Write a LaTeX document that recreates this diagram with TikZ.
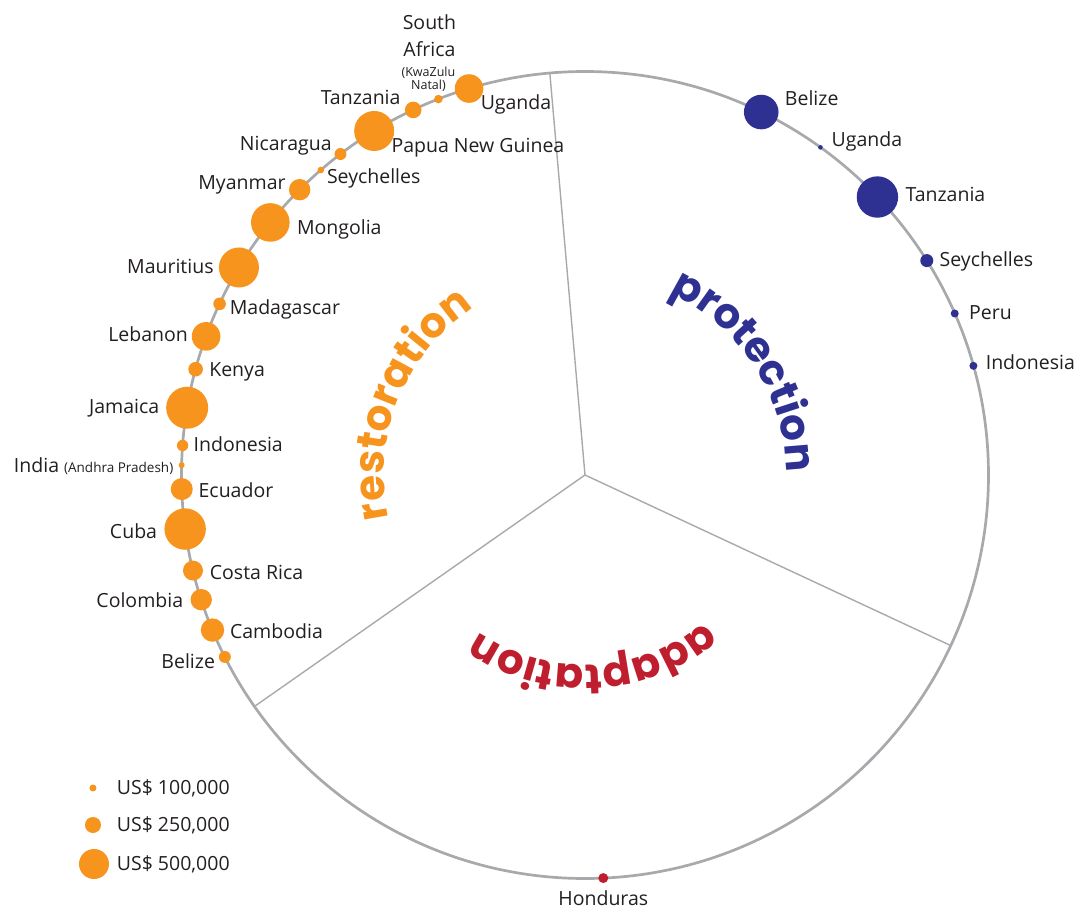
\documentclass[tikz,border=0pt]{standalone}
\usepackage{fontspec}
\setmainfont{Open Sans}
\newfontfamily\arcfont{Poppins}
\usetikzlibrary{positioning,decorations.text}
\definecolor{restorange}{RGB}{247,148,30}
\definecolor{protblue}{RGB}{46,49,146}
\definecolor{adaptred}{RGB}{190,30,45}
\definecolor{ringgray}{RGB}{167,169,172}
\definecolor{labdark}{RGB}{35,31,32}
\newcommand{\ringrad}{403.5}

\begin{document}
\begin{tikzpicture}[x=1pt, y=1pt,
  odot/.style={circle, fill=restorange, inner sep=0pt, minimum size=#1},
  pdot/.style={circle, fill=protblue, inner sep=0pt, minimum size=#1},
  adot/.style={circle, fill=adaptred, inner sep=0pt, minimum size=#1},
  lab/.style={inner sep=0pt, text height=13.9pt, text depth=0pt, text=labdark, font=\fontsize{19.5}{24}\selectfont},
  multilab/.style={inner sep=0pt, align=center, text=labdark}]
\useasboundingbox (-585,475) rectangle (489,-431);

% Ring split into three sectors
\coordinate (hub) at (0,0);
\foreach \a in {95,-25,215}
  \draw[ringgray, line width=1.4pt] (hub) -- (\a:\ringrad);
\draw[ringgray, line width=2.7pt] (hub) circle[radius=\ringrad];

% Sector titles, bent along arcs
\path[decorate, decoration={text along path, text align=center, text color=restorange,
  text={|\arcfont\bfseries\fontsize{42}{42}\selectfont|restoration}}] (218:201) arc[start angle=218, end angle=98, radius=201];
\path[decorate, decoration={text along path, text align=center, text color=protblue,
  text={|\arcfont\bfseries\fontsize{42}{42}\selectfont|protection}}] (93:201) arc[start angle=93, end angle=-27, radius=201];
\path[decorate, decoration={text along path, text align=center, text color=adaptred,
  text={|\arcfont\bfseries\fontsize{42}{42}\selectfont|adaptation}}] (332.5:190) arc[start angle=332.5, end angle=212.5, radius=190];

% Restoration projects
\node[odot=28.6pt] (oUga) at (106.7:\ringrad) {};
\node[lab, right=-3pt of oUga, yshift=-14pt] (oUgaL) {Uganda};
\node[odot=8.6pt] (oSaf) at (111.3:\ringrad) {};
\node[multilab, font=\fontsize{12.5}{13}\selectfont, above=2.7pt of oSaf, xshift=-10pt] (oSafS) {(KwaZulu\\Natal)};
\node[multilab, font=\fontsize{19.5}{27}\selectfont, above=10.5pt of oSafS, xshift=1pt] (oSafL) {South\\Africa};
\node[odot=16.6pt] (oTan) at (115.2:\ringrad) {};
\node[lab, left=4pt of oTan, yshift=12pt] (oTanL) {Tanzania};
\node[odot=40pt] (oPng) at (121.5:\ringrad) {};
\node[lab, right=-3pt of oPng, yshift=-15pt] (oPngL) {Papua New Guinea};
\node[odot=12pt] (oNic) at (127.3:\ringrad) {};
\node[lab, left=2.5pt of oNic, yshift=10pt] (oNicL) {Nicaragua};
\node[odot=6.6pt] (oSey) at (130.9:\ringrad) {};
\node[lab, right=2.5pt of oSey, yshift=-7pt] (oSeyL) {Seychelles};
\node[odot=21.4pt] (oMya) at (135:\ringrad) {};
\node[lab, left=3pt of oMya, yshift=7pt] (oMyaL) {Myanmar};
\node[odot=38.6pt] (oMon) at (141.25:\ringrad) {};
\node[lab, right=7pt of oMon, yshift=-5pt] (oMonL) {Mongolia};
\node[odot=40pt] (oMau) at (149.05:\ringrad) {};
\node[lab, left=5pt of oMau, yshift=1pt] (oMauL) {Mauritius};
\node[odot=12.6pt] (oMad) at (154.9:\ringrad) {};
\node[lab, right=3.5pt of oMad, yshift=-4pt] (oMadL) {Madagascar};
\node[odot=28.6pt] (oLeb) at (159.9:\ringrad) {};
\node[lab, left=3.5pt of oLeb, yshift=2pt] (oLebL) {Lebanon};
\node[odot=14.6pt] (oKen) at (164.8:\ringrad) {};
\node[lab, right=6pt of oKen] (oKenL) {Kenya};
\node[odot=42pt] (oJam) at (170.4:\ringrad) {};
\node[lab, left=6.5pt of oJam, yshift=1pt] (oJamL) {Jamaica};
\node[odot=11.4pt] (oIdn) at (175.8:\ringrad) {};
\node[lab, right=5pt of oIdn, yshift=1pt] (oIdnL) {Indonesia};
\node[odot=6pt] (oInd) at (178.6:\ringrad) {};
\node[lab, left=5pt of oInd] (oIndL) {India {\fontsize{13.5}{16}\selectfont(Andhra Pradesh)}};
\node[odot=22pt] (oEcu) at (182:\ringrad) {};
\node[lab, right=5.5pt of oEcu, yshift=-1pt] (oEcuL) {Ecuador};
\node[odot=41.4pt] (oCub) at (187.7:\ringrad) {};
\node[lab, left=7pt of oCub, yshift=-2pt] (oCubL) {Cuba};
\node[odot=20pt] (oCos) at (193.7:\ringrad) {};
\node[lab, right=6.5pt of oCos, yshift=-2pt] (oCosL) {Costa Rica};
\node[odot=21.4pt] (oCol) at (198:\ringrad) {};
\node[lab, left=7pt of oCol, yshift=-1pt] (oColL) {Colombia};
\node[odot=23.4pt] (oCam) at (202.6:\ringrad) {};
\node[lab, right=5.5pt of oCam, yshift=-1pt] (oCamL) {Cambodia};
\node[odot=12pt] (oBel) at (206.8:\ringrad) {};
\node[lab, left=3.5pt of oBel, yshift=-5pt] (oBelL) {Belize};

% Protection projects
\node[pdot=34.6pt] (pBel) at (64.1:\ringrad) {};
\node[lab, right=6pt of pBel, yshift=13pt] (pBelL) {Belize};
\node[pdot=4.6pt] (pUga) at (54.3:\ringrad) {};
\node[lab, right=8.5pt of pUga, yshift=7.5pt] (pUgaL) {Uganda};
\node[pdot=41.4pt] (pTan) at (43.55:\ringrad) {};
\node[lab, right=7pt of pTan, yshift=2pt] (pTanL) {Tanzania};
\node[pdot=13pt] (pSey) at (32.1:\ringrad) {};
\node[lab, right=6pt of pSey, yshift=1pt] (pSeyL) {Seychelles};
\node[pdot=8pt] (pPer) at (23.6:\ringrad) {};
\node[lab, right=10pt of pPer, yshift=1pt] (pPerL) {Peru};
\node[pdot=8pt] (pIdn) at (15.7:\ringrad) {};
\node[lab, right=8pt of pIdn, yshift=3pt] (pIdnL) {Indonesia};

% Adaptation project
\node[adot=10pt] (aHon) at (-87.4:\ringrad) {};
\node[lab, below=8pt of aHon] (aHonL) {Honduras};

% Legend
\node[odot=7pt] (leg1) at (-492,-313) {};
\node[odot=16pt] (leg2) at (-492,-350) {};
\node[odot=30pt] (leg3) at (-491,-389) {};
\node[lab, anchor=west] (leg1L) at (-468.3,-312.8) {US\$ 100,000};
\node[lab, anchor=west] (leg2L) at (-468.3,-349.5) {US\$ 250,000};
\node[lab, anchor=west] (leg3L) at (-468.3,-388.3) {US\$ 500,000};
\end{tikzpicture}
\end{document}
